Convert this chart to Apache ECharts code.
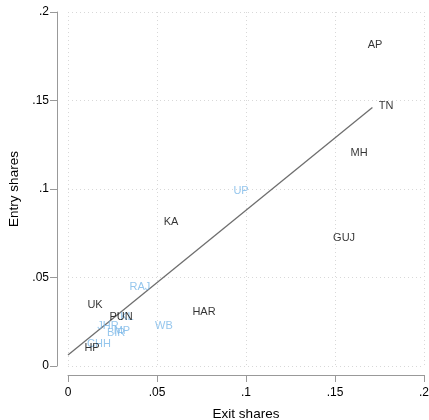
<!DOCTYPE html>
<html>
<head>
<meta charset="utf-8">
<script src="https://cdn.jsdelivr.net/npm/echarts@6/dist/echarts.min.js"></script>
<style>
  html, body { margin: 0; padding: 0; background: #fff; }
  #chart { width: 429px; height: 420px; }
</style>
</head>
<body>
<div id="chart"></div>
<script>
// states shown in black
const blackNames = ['AP', 'TN', 'MH', 'KA', 'GUJ', 'HAR', 'UK', 'PUN', 'HP'];
const blackExit  = [0.1725, 0.1787, 0.1635, 0.0579, 0.1551, 0.0764, 0.0152, 0.0298, 0.0135];
const blackEntry = [0.1814, 0.1469, 0.1203, 0.0814, 0.0723, 0.0305, 0.0345, 0.0277, 0.0102];

// states shown in light blue
const blueNames = ['UP', 'RAJ', 'WB', 'KL', 'JHR', 'BIR', 'MP', 'CHH'];
const blueExit  = [0.0972, 0.0404, 0.0539, 0.0331, 0.0225, 0.0270, 0.0303, 0.0174];
const blueEntry = [0.0989, 0.0446, 0.0226, 0.0277, 0.0226, 0.0186, 0.0198, 0.0124];

// fitted line end points
const fitExit  = [0, 0.171];
const fitEntry = [0.0062, 0.146];

const ticks = [0, 0.05, 0.1, 0.15, 0.2];
const tickLabels = ['0', '.05', '.1', '.15', '.2'];

const fmt = (v) => {
  const i = ticks.findIndex((t) => Math.abs(t - v) < 1e-9);
  return i >= 0 ? tickLabels[i] : '';
};

const toPoints = (names, xs, ys) => names.map((n, i) => ({ name: n, value: [xs[i], ys[i]] }));

const labelSeries = (names, xs, ys, color) => ({
  type: 'scatter',
  symbolSize: 0,
  data: toPoints(names, xs, ys),
  silent: true,
  z: 3,
  label: {
    show: true,
    position: 'inside',
    formatter: (p) => p.name,
    color: color,
    fontFamily: 'Liberation Sans, Arial, sans-serif',
    fontSize: 11
  }
});

const axisCommon = {
  type: 'value',
  min: 0,
  max: 0.2,
  interval: 0.05,
  nameLocation: 'middle',
  nameTextStyle: { color: '#000', fontSize: 13.5, fontFamily: 'Liberation Sans, Arial, sans-serif' },
  axisLine: { show: true, onZero: false, lineStyle: { color: '#999', width: 1 } },
  axisTick: { show: true, length: 7, lineStyle: { color: '#999' } },
  axisLabel: { color: '#000', fontSize: 12, fontFamily: 'Liberation Sans, Arial, sans-serif', formatter: fmt },
  splitLine: { show: true, lineStyle: { color: '#d8d8d8', type: [1, 3], width: 1 } }
};

const chart = echarts.init(document.getElementById('chart'));
chart.setOption({
  animation: false,
  grid: { left: 68, right: 5, top: 12, bottom: 54, containLabel: false, outerBoundsMode: 'none' },
  xAxis: Object.assign({}, axisCommon, {
    name: 'Exit shares',
    nameGap: 32,
    offset: 9,
    axisLabel: Object.assign({}, axisCommon.axisLabel, { margin: 12 })
  }),
  yAxis: Object.assign({}, axisCommon, {
    name: 'Entry shares',
    nameGap: 28,
    offset: 11,
    axisLabel: Object.assign({}, axisCommon.axisLabel, { margin: 8 })
  }),
  series: [
    {
      type: 'line',
      data: fitExit.map((x, i) => [x, fitEntry[i]]),
      symbol: 'none',
      lineStyle: { color: '#6e6e6e', width: 1.3 },
      z: 2
    },
    labelSeries(blueNames, blueExit, blueEntry, '#7ab8e8'),
    labelSeries(blackNames, blackExit, blackEntry, '#000')
  ]
});
</script>
</body>
</html>
